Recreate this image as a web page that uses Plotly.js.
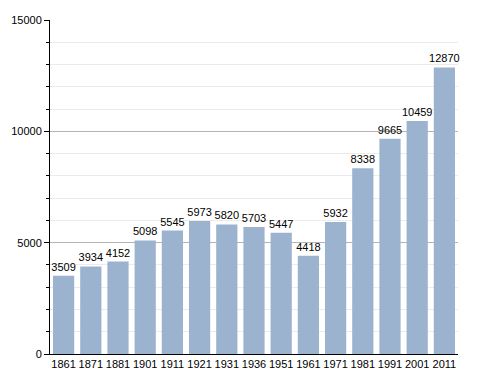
<!DOCTYPE html>
<html><head><meta charset="utf-8">
<script src="https://cdn.plot.ly/plotly-3.0.1.min.js"></script>
<style>body{margin:0;background:#fff}#c{width:488px;height:373px}</style>
</head><body><div id="c"></div>
<script>
const years = ["1861","1871","1881","1901","1911","1921","1931","1936","1951","1961","1971","1981","1991","2001","2011"];
const population = [3509,3934,4152,5098,5545,5973,5820,5703,5447,4418,5932,8338,9665,10459,12870];
const yTicks = [0,5000,10000,15000];

Plotly.newPlot('c',[{
  type:'bar', x:years, y:population,
  text:population.map(String), textposition:'outside', cliponaxis:false,
  textfont:{family:'Liberation Sans, Arial, sans-serif', size:11, color:'#000'},
  marker:{color:'#9cb3d0', line:{width:0}},
  hoverinfo:'none'
}],{
  width:488, height:373,
  margin:{l:50,r:30,t:20,b:19},
  paper_bgcolor:'#fff', plot_bgcolor:'#fff',
  bargap:0.22,
  showlegend:false,
  uniformtext:{minsize:11, mode:'show'},
  font:{family:'Liberation Sans, Arial, sans-serif', size:11, color:'#000'},
  xaxis:{type:'category', showline:true, linecolor:'#000', linewidth:1, ticks:'', showgrid:false,
    tickfont:{size:11}, ticklen:0},
  yaxis:{range:[0,15000], tickvals:yTicks, ticktext:yTicks.map(String), showline:true, linecolor:'#000', linewidth:1,
    ticks:'outside', ticklen:5, tickcolor:'#000', gridcolor:'#b4b4b4', gridwidth:1, zeroline:false,
    minor:{dtick:1000, ticks:'outside', ticklen:3, tickcolor:'#000', showgrid:true, gridcolor:'#ebebeb'},
    tickfont:{size:11}}
},{staticPlot:true});
</script></body></html>
